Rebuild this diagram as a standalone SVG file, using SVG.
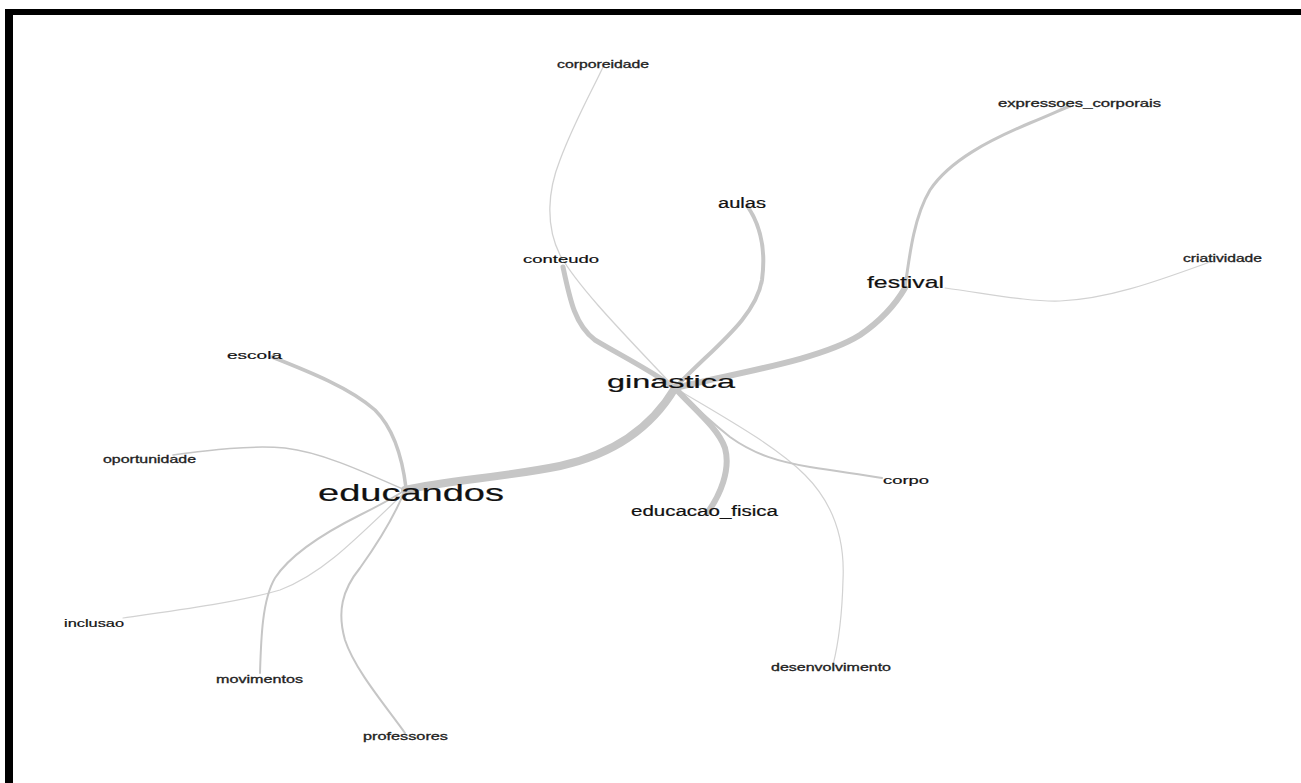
<svg xmlns="http://www.w3.org/2000/svg" width="1301" height="783" viewBox="0 0 1301 783">
<style>
.e{fill:none;stroke:#c6c6c6;stroke-linecap:round;stroke-linejoin:round}
.t{font-family:"Liberation Sans",Arial,sans-serif;fill:#111;stroke:#111;stroke-width:0.2}
.s{font-size:10.5px;fill:#222;stroke:#222;stroke-width:0.3}
</style>
<rect x="0" y="0" width="1301" height="783" fill="#ffffff"/>
<g id="frame">
<rect x="5" y="9" width="1296" height="6" fill="#000"/>
<rect x="5" y="9" width="8" height="774" fill="#000"/>
</g>
<g id="connectors">
<path class="e" stroke-width="8" d="M675,388 C650,430 610,455 560,466 C500,478 450,480 405,490"/>
<path class="e" stroke-width="6" d="M675,388 C740,372 820,360 860,335 C885,318 898,300 905,288"/>
<path class="e" stroke-width="3" d="M905,288 C910,250 915,215 930,190 C950,160 990,140 1030,123 C1050,115 1060,110 1070,106"/>
<path class="e" stroke-width="1.2" style="stroke:#d2d2d2" d="M945,288 C990,294 1030,302 1060,301 C1110,299 1160,280 1210,262"/>
<path class="e" stroke-width="4" d="M675,388 C710,350 755,320 762,280 C766,250 760,225 748,207"/>
<path class="e" stroke-width="5" d="M675,388 C650,370 620,355 595,340 C575,325 570,300 563,267"/>
<path class="e" stroke-width="1.3" style="stroke:#d2d2d2" d="M675,388 C630,340 580,290 560,255 C545,225 548,190 560,160 C575,120 595,85 603,67"/>
<path class="e" stroke-width="1.2" style="stroke:#d2d2d2" d="M675,388 C720,415 775,445 805,475 C835,505 845,540 843,580 C842,620 838,645 833,665"/>
<path class="e" stroke-width="6" d="M675,388 C695,410 718,428 725,448 C731,470 720,495 708,512"/>
<path class="e" stroke-width="2" d="M675,388 C700,412 715,425 730,437 C755,455 780,462 810,467 C840,472 860,474 882,478"/>
<path class="e" stroke-width="3.5" d="M272,357 C310,372 350,388 375,410 C393,428 402,455 406,488"/>
<path class="e" stroke-width="1.5" d="M173,455 C210,450 250,445 285,448 C320,452 360,470 405,490"/>
<path class="e" stroke-width="1.2" style="stroke:#d2d2d2" d="M123,618 C180,610 240,602 280,590 C320,575 350,545 405,492"/>
<path class="e" stroke-width="2" d="M260,673 C261,640 262,600 275,578 C290,555 320,535 360,515 C380,505 395,497 405,490"/>
<path class="e" stroke-width="2" d="M405,733 C385,705 355,670 345,640 C337,612 342,590 360,568 C380,540 395,515 405,490"/>
</g>
<g id="corporeidade"><text class="t s" x="557" y="68" textLength="92" lengthAdjust="spacingAndGlyphs">corporeidade</text></g>
<g id="aulas"><text class="t" x="718" y="208" font-size="14" textLength="48" lengthAdjust="spacingAndGlyphs">aulas</text></g>
<g id="conteudo"><text class="t" x="523" y="263" font-size="11.5" textLength="76" lengthAdjust="spacingAndGlyphs">conteudo</text></g>
<g id="expressoes_corporais"><text class="t s" x="998" y="107" textLength="163" lengthAdjust="spacingAndGlyphs">expressoes_corporais</text></g>
<g id="criatividade"><text class="t s" x="1183" y="262" textLength="79" lengthAdjust="spacingAndGlyphs">criatividade</text></g>
<g id="festival"><text class="t" x="867" y="288" font-size="17" textLength="77" lengthAdjust="spacingAndGlyphs">festival</text></g>
<g id="escola"><text class="t" x="227" y="359" font-size="11.5" textLength="55" lengthAdjust="spacingAndGlyphs">escola</text></g>
<g id="oportunidade"><text class="t s" x="103" y="463" textLength="93" lengthAdjust="spacingAndGlyphs">oportunidade</text></g>
<g id="educandos"><text class="t" x="318" y="501" font-size="24" textLength="186" lengthAdjust="spacingAndGlyphs">educandos</text></g>
<g id="ginastica"><text class="t" x="607" y="388" font-size="19" textLength="128" lengthAdjust="spacingAndGlyphs">ginastica</text></g>
<g id="corpo"><text class="t" x="883" y="484" font-size="11.5" textLength="46" lengthAdjust="spacingAndGlyphs">corpo</text></g>
<g id="educacao_fisica"><text class="t" x="631" y="516" font-size="14" textLength="147" lengthAdjust="spacingAndGlyphs">educacao_fisica</text></g>
<g id="desenvolvimento"><text class="t s" x="771" y="671" textLength="120" lengthAdjust="spacingAndGlyphs">desenvolvimento</text></g>
<g id="inclusao"><text class="t" x="64" y="627" font-size="11.5" textLength="60" lengthAdjust="spacingAndGlyphs">inclusao</text></g>
<g id="movimentos"><text class="t s" x="216" y="683" textLength="87" lengthAdjust="spacingAndGlyphs">movimentos</text></g>
<g id="professores"><text class="t s" x="363" y="740" textLength="85" lengthAdjust="spacingAndGlyphs">professores</text></g>
</svg>
